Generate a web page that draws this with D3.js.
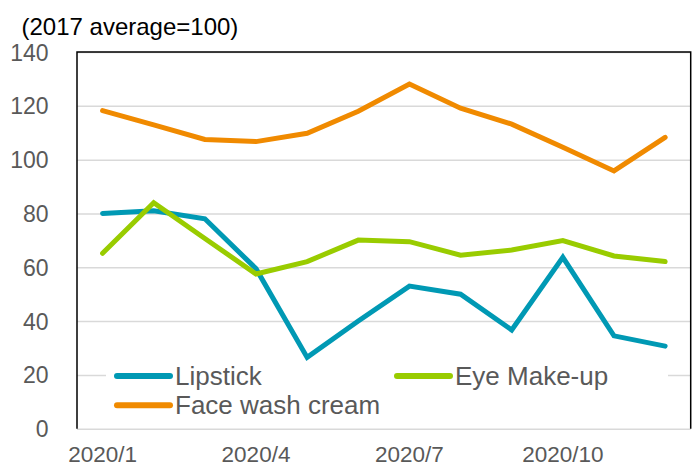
<!DOCTYPE html>
<html><head><meta charset="utf-8">
<script src="https://cdn.jsdelivr.net/npm/d3@7"></script>
<style>html,body{margin:0;padding:0;background:#fff;}svg{display:block;}</style>
</head><body>
<svg id="chart" width="696" height="467"></svg>
<script>
const months = ["2020/1","2020/2","2020/3","2020/4","2020/5","2020/6","2020/7","2020/8","2020/9","2020/10","2020/11","2020/12"];
const tickLabels = ["2020/1","2020/4","2020/7","2020/10"];
const yTicks = [0,20,40,60,80,100,120,140];
const lipstick = [80.0,81.0,78.0,59.5,26.5,40.0,53.0,50.0,36.7,63.7,34.5,30.7];
const eyeMakeup = [65.2,84.0,70.7,57.5,62.1,70.1,69.5,64.5,66.4,69.9,64.2,62.1];
const faceWash = [118.2,112.9,107.5,106.7,109.8,118.0,128.1,119.1,113.2,104.6,95.8,108.3];
const seriesNames = ["Lipstick","Eye Make-up","Face wash cream"];
const seriesColors = ["#0099B4","#99CC00","#F08A00"];
const title = "(2017 average=100)";

const series = [
  {name: seriesNames[0], values: lipstick, color: seriesColors[0]},
  {name: seriesNames[1], values: eyeMakeup, color: seriesColors[1]},
  {name: seriesNames[2], values: faceWash, color: seriesColors[2]}
];

const svg = d3.select("#chart");
const L = 77, R = 690.7, T = 52, B = 428.7;
const font = "'Liberation Sans', Arial, sans-serif";

const x = d3.scaleBand().domain(months).range([L, R]);
const y = d3.scaleLinear().domain([0, 140]).range([B, T]);
const cx = d => x(d) + x.bandwidth() / 2;

// gridlines
const yAxis = d3.axisLeft(y).tickValues(yTicks).tickSize(-(R - L)).tickFormat(d3.format("d"));
const gy = svg.append("g").attr("transform", `translate(${L},0)`).call(yAxis);
gy.select(".domain").remove();
gy.selectAll(".tick line").attr("stroke", "#D9D9D9").attr("stroke-width", 1.5);
gy.selectAll(".tick text").attr("x", -28.5).attr("dy", "0.35em")
  .attr("fill", "#595959").style("font-family", font).style("font-size", "23px");

// frame: top, left, right black
svg.append("path")
  .attr("d", `M${L},${B}V${T}H${R}V${B}`)
  .attr("fill", "none").attr("stroke", "#000").attr("stroke-width", 1.5);

// x axis labels
const xAxis = d3.axisBottom(x).tickValues(tickLabels).tickSize(0).tickPadding(0);
const gx = svg.append("g").attr("transform", `translate(0,${B})`).call(xAxis);
gx.select(".domain").remove();
gx.selectAll(".tick text").attr("y", 33.3).attr("dy", 0)
  .attr("fill", "#595959").style("font-family", font).style("font-size", "22.5px");

// legend background
svg.append("rect").attr("x", 106).attr("y", 360).attr("width", 562).attr("height", 62).attr("fill", "#fff");

// lines
const line = d3.line().x((d, i) => cx(months[i])).y(d => y(d));
svg.append("g").selectAll("path").data(series).join("path")
  .attr("d", d => line(d.values))
  .attr("fill", "none").attr("stroke", d => d.color)
  .attr("stroke-width", 5).attr("stroke-linecap", "round").attr("stroke-linejoin", "miter");

// legend
const legendPos = [[116, 376], [396, 376], [116, 405.3]];
const lg = svg.append("g").selectAll("g").data(series).join("g")
  .attr("transform", (d, i) => `translate(${legendPos[i][0]},${legendPos[i][1]})`);
lg.append("line").attr("x1", 1).attr("x2", 54).attr("y1", 0).attr("y2", 0)
  .attr("stroke", d => d.color).attr("stroke-width", 6).attr("stroke-linecap", "round");
lg.append("text").attr("x", 59).attr("y", 0).attr("dy", "0.35em").text(d => d.name)
  .attr("fill", "#595959").style("font-family", font).style("font-size", "26px");

// title
svg.append("text").attr("x", 21.5).attr("y", 34.5).text(title)
  .attr("fill", "#000").style("font-family", font).style("font-size", "24px");
</script>
</body></html>
